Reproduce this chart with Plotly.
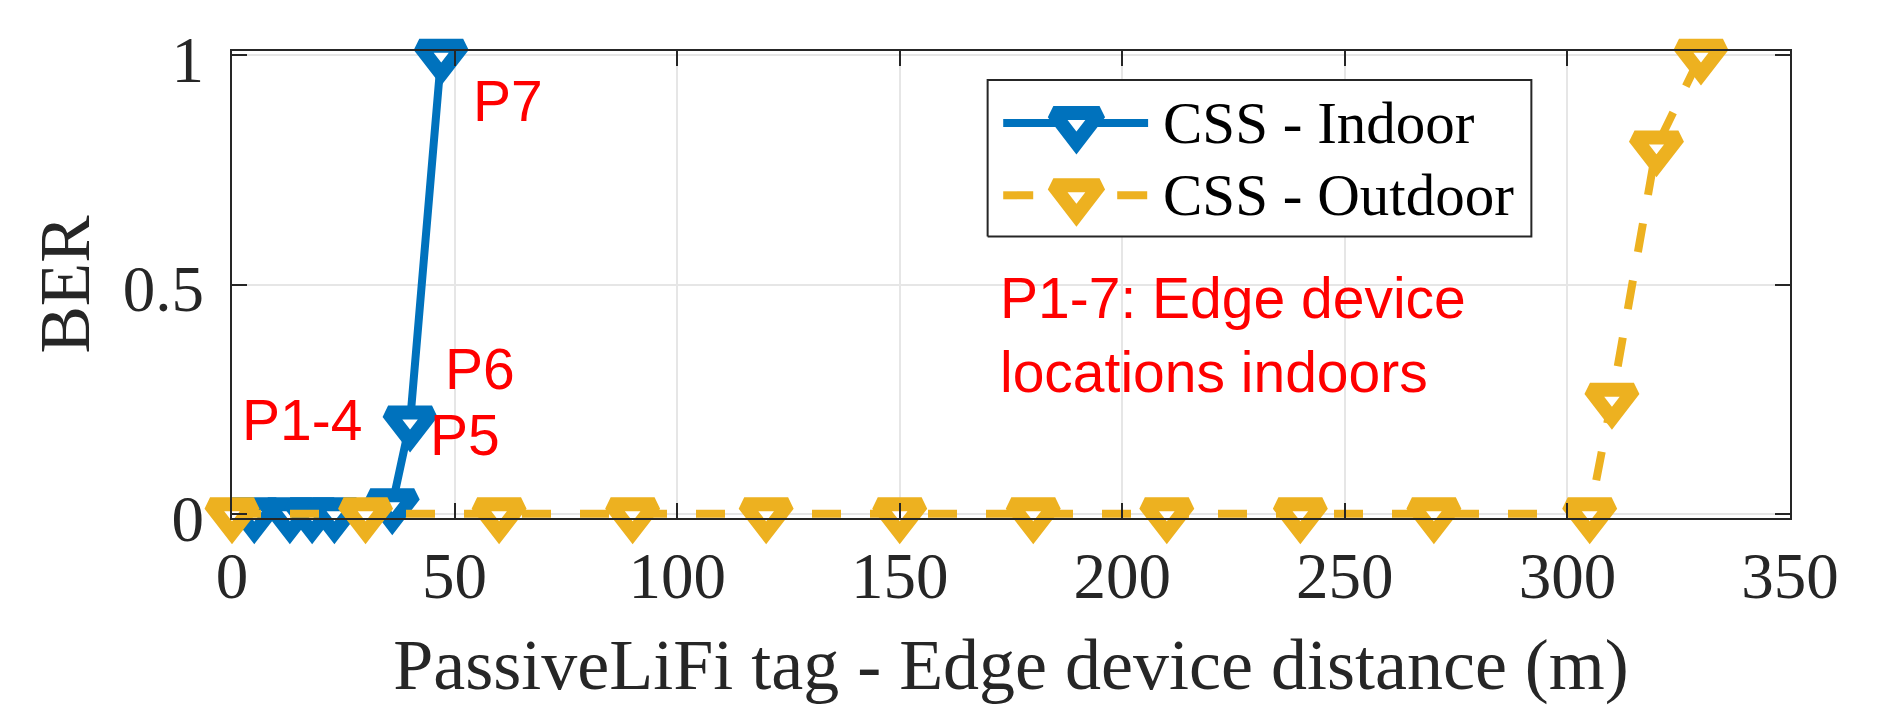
import plotly.graph_objects as go

# ---- data ----
indoor_x = [5, 13, 18, 23, 36, 40, 47]
indoor_y = [0, 0, 0, 0, 0.02, 0.2, 1]
outdoor_x = [0, 30, 60, 90, 120, 150, 180, 210, 240, 270, 305, 310, 320, 330]
outdoor_y = [0, 0, 0, 0, 0, 0, 0, 0, 0, 0, 0, 0.25, 0.8, 1]
series_names = ["CSS - Indoor", "CSS - Outdoor"]
x_ticks = [0, 50, 100, 150, 200, 250, 300, 350]
y_ticks = [0, 0.5, 1]
y_ticktext = ["0", "0.5", "1"]
point_labels = ["P7", "P6", "P5", "P1-4"]
point_label_x = [53.6, 47.4, 44.1, 1.9]
point_label_y = [0.90, 0.315, 0.173, 0.205]
note_text = "P1-7: Edge device<br>locations indoors"
note_x = 172
note_y = 0.389

# ---- styles ----
BLUE = "#0072BD"
ORANGE = "#EDB120"
AXC = "#262626"
SERIF = "Liberation Serif, Times New Roman, serif"
SANS = "Liberation Sans, Arial, sans-serif"
MSIZE, MLW, LW = 38, 14, 8

fig = go.Figure()

fig.add_trace(go.Scatter(
    x=indoor_x, y=indoor_y, mode="lines+markers", name=series_names[0],
    line=dict(color=BLUE, width=LW),
    marker=dict(symbol="triangle-down", size=MSIZE, color="white",
                line=dict(color=BLUE, width=MLW)),
    cliponaxis=False, showlegend=False))

fig.add_trace(go.Scatter(
    x=outdoor_x, y=outdoor_y, mode="lines+markers", name=series_names[1],
    line=dict(color=ORANGE, width=LW, dash="29px,29px"),
    marker=dict(symbol="triangle-down", size=MSIZE, color="white",
                line=dict(color=ORANGE, width=MLW)),
    cliponaxis=False, showlegend=False))

# ---- manual legend (overlay axes in plot-fraction units) ----
leg_x0, leg_x1, leg_y0, leg_y1 = 0.485, 0.834, 0.603, 0.938
row_y = [0.846, 0.691]
line_x = [0.495, 0.588]
mark_x = 0.542
text_x = 0.596
colors = [BLUE, ORANGE]
dashes = ["solid", "30px,27px"]

fig.add_trace(go.Scatter(
    x=[leg_x0, leg_x1, leg_x1, leg_x0, leg_x0],
    y=[leg_y0, leg_y0, leg_y1, leg_y1, leg_y0],
    mode="lines", fill="toself", fillcolor="white",
    line=dict(color=AXC, width=2), xaxis="x2", yaxis="y2",
    showlegend=False, hoverinfo="skip"))
for i in range(2):
    fig.add_trace(go.Scatter(
        x=line_x, y=[row_y[i], row_y[i]], mode="lines", xaxis="x2", yaxis="y2",
        line=dict(color=colors[i], width=LW, dash=dashes[i]),
        showlegend=False, hoverinfo="skip"))
    fig.add_trace(go.Scatter(
        x=[mark_x], y=[row_y[i]], mode="markers", xaxis="x2", yaxis="y2",
        marker=dict(symbol="triangle-down", size=MSIZE + 2, color="white",
                    line=dict(color=colors[i], width=MLW)),
        showlegend=False, hoverinfo="skip", cliponaxis=False))
    fig.add_annotation(x=text_x, y=row_y[i], xref="paper", yref="paper",
                       text=series_names[i], showarrow=False,
                       xanchor="left", yanchor="middle",
                       font=dict(family=SERIF, size=59, color="black"))

for t, xx, yy in zip(point_labels, point_label_x, point_label_y):
    fig.add_annotation(x=xx, y=yy, xref="x", yref="y", text=t, showarrow=False,
                       xanchor="left", yanchor="middle",
                       font=dict(family=SANS, size=57, color="#FF0000"))
fig.add_annotation(x=note_x, y=note_y, xref="x", yref="y", text=note_text,
                   showarrow=False, xanchor="left", yanchor="middle", align="left",
                   font=dict(family=SANS, size=57, color="#FF0000"))

axis_common = dict(showline=True, linecolor=AXC, linewidth=2, mirror="ticks",
                   ticks="inside", ticklen=15, tickwidth=2, tickcolor=AXC,
                   showgrid=True, gridcolor="#E6E6E6", gridwidth=2,
                   zeroline=False,
                   tickfont=dict(family=SERIF, size=65, color=AXC))

fig.update_layout(
    width=1888, height=705,
    margin=dict(l=232, r=98, t=51, b=183),
    paper_bgcolor="white", plot_bgcolor="white",
    xaxis=dict(range=[0, 350], tickvals=x_ticks,
               title=dict(text="PassiveLiFi tag - Edge device distance (m)",
                          font=dict(family=SERIF, size=72, color=AXC), standoff=31),
               **axis_common),
    yaxis=dict(range=[-0.009, 1.009], tickvals=y_ticks, ticktext=y_ticktext,
               ticklabelstandoff=13, ticklabelshift=4,
               title=dict(text="BER", font=dict(family=SERIF, size=71, color=AXC),
                          standoff=10),
               **axis_common),
    xaxis2=dict(overlaying="x", range=[0, 1], visible=False, fixedrange=True),
    yaxis2=dict(overlaying="y", range=[0, 1], visible=False, fixedrange=True),
)

fig.write_html("out.html", config={"displayModeBar": False},
               post_script="document.body.style.margin='0px';"
                           "document.body.style.overflow='hidden';")
